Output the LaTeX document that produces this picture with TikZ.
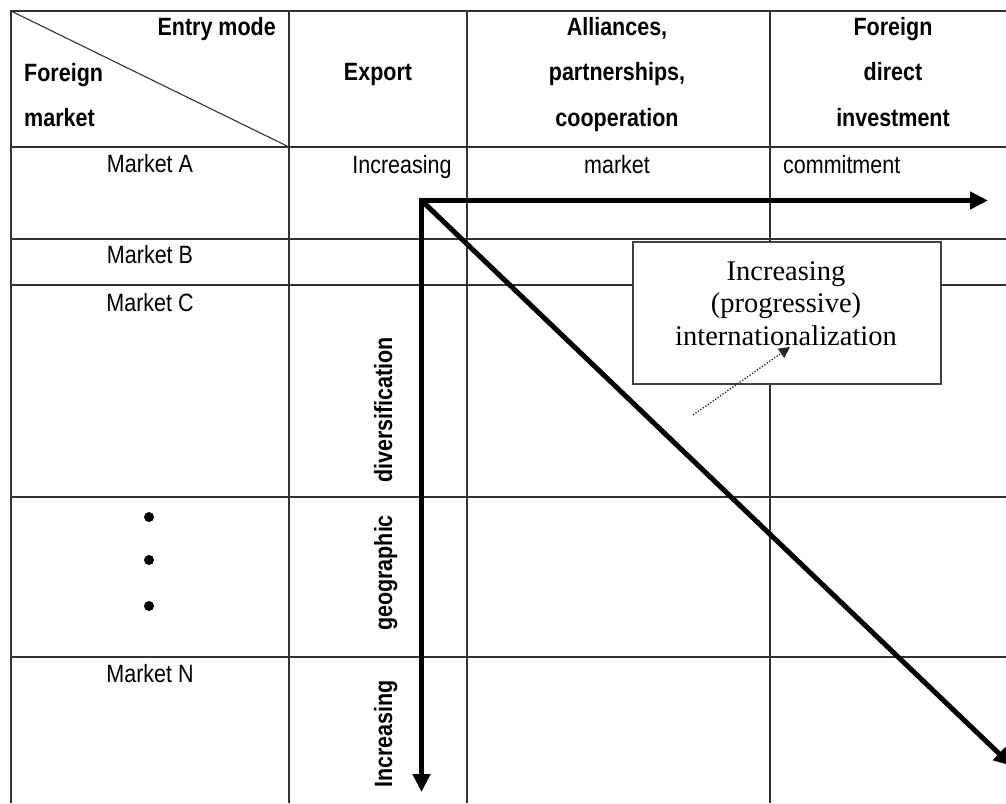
\documentclass[tikz,border=0pt]{standalone}
\usepackage{fontspec}
\newfontfamily\tabfont[FakeStretch=0.86]{Liberation Sans}
\newfontfamily\notefont{Liberation Serif}
\usetikzlibrary{arrows.meta}

\begin{document}
\begin{tikzpicture}[x=1pt,y=-1pt,
	grid/.style={draw=black!80,line width=1.3pt},
	head/.style={font=\tabfont\bfseries\fontsize{25}{45.5}\selectfont,inner sep=0,anchor=north,align=center},
	cell/.style={font=\tabfont\fontsize{25}{30}\selectfont,inner sep=0,anchor=base},
	side/.style={font=\tabfont\bfseries\fontsize{25}{30}\selectfont,inner sep=0,anchor=base,rotate=90},
	dot/.style={circle,fill=black,inner sep=0,minimum size=10pt},
	bigtip/.tip={Triangle[length=18pt,width=17pt]}]
	\useasboundingbox[fill=white] (0,0) rectangle (1006,803);
	
	% table
	\draw[grid] (1006,11) -- (11,11) -- (11,803);
	\foreach \x in {289,467,770} \draw[grid] (\x,11) -- (\x,803);
	\foreach \y in {147,239,285,497,657} \draw[grid] (11,\y) -- (1006,\y);
	\draw[grid,line width=1.1pt] (11,11) -- (289,147);
	
	\node[head,anchor=north east] at (276,17) (entry) {Entry mode};
	\node[head,anchor=north west,align=left] at (24,63) (foreign) {Foreign\\market};
	\node[head] at (378,63) (export) {Export};
	\node[head] at (617,17) (alliance) {Alliances,\\partnerships,\\cooperation};
	\node[head] at (893,17) (fdi) {Foreign\\direct\\investment};
	
	\node[cell] at (150,172) (mA) {Market A};
	\node[cell] at (150,263) (mB) {Market B};
	\node[cell] at (150,311) (mC) {Market C};
	\node[cell] at (150,682) (mN) {Market N};
	\foreach \y/\n in {517/1,560/2,606/3} \node[dot] at (149,\y) (dot\n) {};
	
	\node[cell] at (402,173) (incr) {Increasing};
	\node[cell] at (617,173) (mkt) {market};
	\node[cell,anchor=base west] at (783,173) (commit) {commitment};
	
	\node[side] at (392,410) (divers) {diversification};
	\node[side] at (392,573) (geo) {geographic};
	\node[side] at (392,734) (incgeo) {Increasing};
	
	% arrows
	\coordinate (origin) at (421.5,200.5);
	\coordinate (hend) at (988,200.5);
	\coordinate (vend) at (421.5,792);
	\coordinate (dend) at (1012,766);
	\draw[line width=5pt,bigtip-bigtip] (vend) -- (origin) -- (hend);
	\draw[line width=5pt,-bigtip] (origin) -- (dend);
	
	% note
	\node[draw=black!75,line width=2pt,fill=white,minimum width=308pt,minimum height=142pt] at (787,313) (notebox) {};
	\node[font=\notefont\fontsize{28.5}{32.5}\selectfont,inner sep=0,anchor=north,align=center] at (786,261) (notetext) {Increasing\\(progressive)\\internationalization};
	\coordinate (notefoot) at (693,415);
	\coordinate (notetip) at (790,347);
	\draw[black!85,line width=1.3pt,dash pattern=on 1.3pt off 1.7pt,-{Triangle[length=11pt,width=11pt,sep=0pt]}] (notefoot) -- (notetip);
\end{tikzpicture}
\end{document}
